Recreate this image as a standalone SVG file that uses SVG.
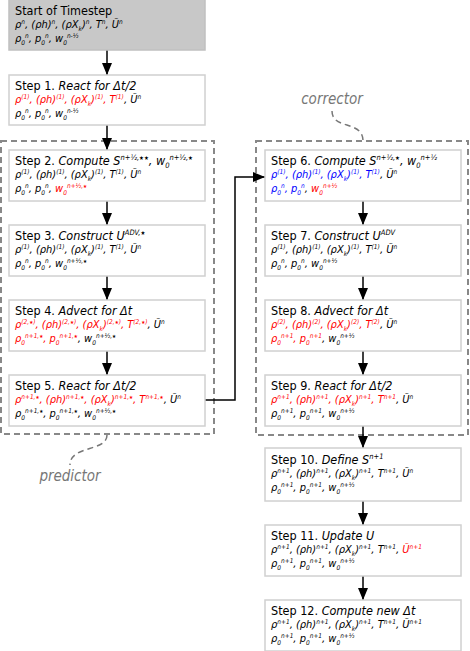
<svg xmlns="http://www.w3.org/2000/svg" width="470" height="651" viewBox="0 0 470 651">
<defs>
<marker id="ah" viewBox="0 0 12 10" refX="12" refY="5" markerWidth="12" markerHeight="10" markerUnits="userSpaceOnUse" orient="auto">
<path d="M0,0 L12,5 L0,10 Z" fill="#000"/>
</marker>
<style>
.box{fill:#fff;stroke:#d0d0d0;stroke-width:1.5}
.start{fill:#c8c8c8;stroke:#c0c0c0;stroke-width:1.5}
.grp{fill:none;stroke:#888;stroke-width:2;stroke-dasharray:6 4}
.lead{fill:none;stroke:#777;stroke-width:1.5;stroke-dasharray:6 4}
.lbl{font-family:"DejaVu Sans Condensed","Liberation Sans",sans-serif;font-style:italic;font-size:15px;fill:#777;text-anchor:middle}
.t{font-family:"DejaVu Sans Condensed","Liberation Sans",sans-serif;font-size:12.5px;fill:#000}
.i{font-style:italic}
.r{font-family:"DejaVu Sans Condensed","Liberation Sans",sans-serif;font-style:italic;font-size:11px;fill:#000}
.u{font-size:6.5px;baseline-shift:4px}
.d{font-size:6.5px;baseline-shift:-2.5px}
.tu{font-size:7.5px;baseline-shift:5px}
.td{font-size:7.5px;baseline-shift:-3px}
.st{font-size:5px}
.tst{font-size:6px}
.red{fill:#f00}
.blue{fill:#00f}
.cn{fill:none;stroke:#000;stroke-width:1.5}
</style>
</defs>

<g id="groups">
<rect class="grp" x="1" y="141" width="213" height="293"/>
<rect class="grp" x="256" y="141" width="212" height="294"/>
<path class="lead" d="M107,435 C107,452 70,445 70,465"/>
<text class="lbl" x="70" y="481">predictor</text>
<path class="lead" d="M332,111 C332,130 363,120 363,141"/>
<text class="lbl" x="332" y="104">corrector</text>
</g>

<g id="connectors">
<line class="cn" x1="107" y1="50" x2="107" y2="75" marker-end="url(#ah)"/>
<line class="cn" x1="107" y1="125" x2="107" y2="150" marker-end="url(#ah)"/>
<line class="cn" x1="107" y1="201" x2="107" y2="225" marker-end="url(#ah)"/>
<line class="cn" x1="107" y1="276" x2="107" y2="300" marker-end="url(#ah)"/>
<line class="cn" x1="107" y1="351" x2="107" y2="375" marker-end="url(#ah)"/>
<path class="cn" d="M205,400 H235 V177 H265" marker-end="url(#ah)"/>
<line class="cn" x1="363" y1="201" x2="363" y2="225" marker-end="url(#ah)"/>
<line class="cn" x1="363" y1="276" x2="363" y2="300" marker-end="url(#ah)"/>
<line class="cn" x1="363" y1="351" x2="363" y2="375" marker-end="url(#ah)"/>
<line class="cn" x1="363" y1="426" x2="363" y2="448" marker-end="url(#ah)"/>
<line class="cn" x1="363" y1="501" x2="363" y2="525" marker-end="url(#ah)"/>
<line class="cn" x1="363" y1="576" x2="363" y2="600" marker-end="url(#ah)"/>
</g>

<g id="start">
<rect class="start" x="9" y="-1" width="196" height="51"/>
<text class="t" x="15" y="15">Start of Timestep</text>
<text class="r" x="15" y="28">ρ<tspan class="u">n</tspan>, (ρh)<tspan class="u">n</tspan>, (ρX<tspan class="d">k</tspan>)<tspan class="u">n</tspan>, T<tspan class="u">n</tspan>, Ũ<tspan class="u">n</tspan></text>
<text class="r" x="15" y="42">ρ<tspan class="d">0</tspan><tspan class="u">n</tspan>, p<tspan class="d">0</tspan><tspan class="u">n</tspan>, w<tspan class="d">0</tspan><tspan class="u">n-½</tspan></text>
</g>

<g id="step1">
<rect class="box" x="9" y="75" width="196" height="50"/>
<text class="t" x="15" y="90">Step 1. <tspan class="i">React for Δt/2</tspan></text>
<text class="r" x="15" y="103"><tspan class="red">ρ<tspan class="u">(1)</tspan>, (ρh)<tspan class="u">(1)</tspan>, (ρX<tspan class="d">k</tspan>)<tspan class="u">(1)</tspan>, T<tspan class="u">(1)</tspan></tspan>, Ũ<tspan class="u">n</tspan></text>
<text class="r" x="15" y="117">ρ<tspan class="d">0</tspan><tspan class="u">n</tspan>, p<tspan class="d">0</tspan><tspan class="u">n</tspan>, w<tspan class="d">0</tspan><tspan class="u">n-½</tspan></text>
</g>

<g id="step2">
<rect class="box" x="9" y="150" width="196" height="51"/>
<text class="t" x="15" y="165">Step 2. <tspan class="i">Compute S<tspan class="tu">n+½,<tspan class="tst">★★</tspan></tspan>,  w<tspan class="td">0</tspan><tspan class="tu">n+½,<tspan class="tst">★</tspan></tspan></tspan></text>
<text class="r" x="15" y="178">ρ<tspan class="u">(1)</tspan>, (ρh)<tspan class="u">(1)</tspan>, (ρX<tspan class="d">k</tspan>)<tspan class="u">(1)</tspan>, T<tspan class="u">(1)</tspan>, Ũ<tspan class="u">n</tspan></text>
<text class="r" x="15" y="192">ρ<tspan class="d">0</tspan><tspan class="u">n</tspan>, p<tspan class="d">0</tspan><tspan class="u">n</tspan>, <tspan class="red">w<tspan class="d">0</tspan><tspan class="u">n+½,<tspan class="st">★</tspan></tspan></tspan></text>
</g>

<g id="step3">
<rect class="box" x="9" y="225" width="196" height="51"/>
<text class="t" x="15" y="240">Step 3. <tspan class="i">Construct U<tspan class="tu">ADV,<tspan class="tst">★</tspan></tspan></tspan></text>
<text class="r" x="15" y="253">ρ<tspan class="u">(1)</tspan>, (ρh)<tspan class="u">(1)</tspan>, (ρX<tspan class="d">k</tspan>)<tspan class="u">(1)</tspan>, T<tspan class="u">(1)</tspan>, Ũ<tspan class="u">n</tspan></text>
<text class="r" x="15" y="267">ρ<tspan class="d">0</tspan><tspan class="u">n</tspan>, p<tspan class="d">0</tspan><tspan class="u">n</tspan>, w<tspan class="d">0</tspan><tspan class="u">n+½,<tspan class="st">★</tspan></tspan></text>
</g>

<g id="step4">
<rect class="box" x="9" y="300" width="196" height="51"/>
<text class="t" x="15" y="315">Step 4. <tspan class="i">Advect for Δt</tspan></text>
<text class="r" x="15" y="328"><tspan class="red">ρ<tspan class="u">(2,<tspan class="st">★</tspan>)</tspan>, (ρh)<tspan class="u">(2,<tspan class="st">★</tspan>)</tspan>, (ρX<tspan class="d">k</tspan>)<tspan class="u">(2,<tspan class="st">★</tspan>)</tspan>, T<tspan class="u">(2,<tspan class="st">★</tspan>)</tspan></tspan>, Ũ<tspan class="u">n</tspan></text>
<text class="r" x="15" y="342"><tspan class="red">ρ<tspan class="d">0</tspan><tspan class="u">n+1,<tspan class="st">★</tspan></tspan>, p<tspan class="d">0</tspan><tspan class="u">n+1,<tspan class="st">★</tspan></tspan></tspan>, w<tspan class="d">0</tspan><tspan class="u">n+½,<tspan class="st">★</tspan></tspan></text>
</g>

<g id="step5">
<rect class="box" x="9" y="375" width="196" height="51"/>
<text class="t" x="15" y="390">Step 5. <tspan class="i">React for Δt/2</tspan></text>
<text class="r" x="15" y="403"><tspan class="red">ρ<tspan class="u">n+1,<tspan class="st">★</tspan></tspan>, (ρh)<tspan class="u">n+1,<tspan class="st">★</tspan></tspan>, (ρX<tspan class="d">k</tspan>)<tspan class="u">n+1,<tspan class="st">★</tspan></tspan>, T<tspan class="u">n+1,<tspan class="st">★</tspan></tspan></tspan>, Ũ<tspan class="u">n</tspan></text>
<text class="r" x="15" y="417">ρ<tspan class="d">0</tspan><tspan class="u">n+1,<tspan class="st">★</tspan></tspan>, p<tspan class="d">0</tspan><tspan class="u">n+1,<tspan class="st">★</tspan></tspan>, w<tspan class="d">0</tspan><tspan class="u">n+½,<tspan class="st">★</tspan></tspan></text>
</g>

<g id="step6">
<rect class="box" x="265" y="150" width="196" height="51"/>
<text class="t" x="271" y="165">Step 6. <tspan class="i">Compute S<tspan class="tu">n+½,<tspan class="tst">★</tspan></tspan>, w<tspan class="td">0</tspan><tspan class="tu">n+½</tspan></tspan></text>
<text class="r" x="271" y="178"><tspan class="blue">ρ<tspan class="u">(1)</tspan>, (ρh)<tspan class="u">(1)</tspan>, (ρX<tspan class="d">k</tspan>)<tspan class="u">(1)</tspan>, T<tspan class="u">(1)</tspan></tspan>, Ũ<tspan class="u">n</tspan></text>
<text class="r" x="271" y="192"><tspan class="blue">ρ<tspan class="d">0</tspan><tspan class="u">n</tspan>, p<tspan class="d">0</tspan><tspan class="u">n</tspan></tspan>, <tspan class="red">w<tspan class="d">0</tspan><tspan class="u">n+½</tspan></tspan></text>
</g>

<g id="step7">
<rect class="box" x="265" y="225" width="196" height="51"/>
<text class="t" x="271" y="240">Step 7. <tspan class="i">Construct U<tspan class="tu">ADV</tspan></tspan></text>
<text class="r" x="271" y="253">ρ<tspan class="u">(1)</tspan>, (ρh)<tspan class="u">(1)</tspan>, (ρX<tspan class="d">k</tspan>)<tspan class="u">(1)</tspan>, T<tspan class="u">(1)</tspan>, Ũ<tspan class="u">n</tspan></text>
<text class="r" x="271" y="267">ρ<tspan class="d">0</tspan><tspan class="u">n</tspan>, p<tspan class="d">0</tspan><tspan class="u">n</tspan>, w<tspan class="d">0</tspan><tspan class="u">n+½</tspan></text>
</g>

<g id="step8">
<rect class="box" x="265" y="300" width="196" height="51"/>
<text class="t" x="271" y="315">Step 8. <tspan class="i">Advect for Δt</tspan></text>
<text class="r" x="271" y="328"><tspan class="red">ρ<tspan class="u">(2)</tspan>, (ρh)<tspan class="u">(2)</tspan>, (ρX<tspan class="d">k</tspan>)<tspan class="u">(2)</tspan>, T<tspan class="u">(2)</tspan></tspan>, Ũ<tspan class="u">n</tspan></text>
<text class="r" x="271" y="342"><tspan class="red">ρ<tspan class="d">0</tspan><tspan class="u">n+1</tspan>, p<tspan class="d">0</tspan><tspan class="u">n+1</tspan></tspan>, w<tspan class="d">0</tspan><tspan class="u">n+½</tspan></text>
</g>

<g id="step9">
<rect class="box" x="265" y="375" width="196" height="51"/>
<text class="t" x="271" y="390">Step 9. <tspan class="i">React for Δt/2</tspan></text>
<text class="r" x="271" y="403"><tspan class="red">ρ<tspan class="u">n+1</tspan>, (ρh)<tspan class="u">n+1</tspan>, (ρX<tspan class="d">k</tspan>)<tspan class="u">n+1</tspan>, T<tspan class="u">n+1</tspan></tspan>, Ũ<tspan class="u">n</tspan></text>
<text class="r" x="271" y="417">ρ<tspan class="d">0</tspan><tspan class="u">n+1</tspan>, p<tspan class="d">0</tspan><tspan class="u">n+1</tspan>, w<tspan class="d">0</tspan><tspan class="u">n+½</tspan></text>
</g>

<g id="step10">
<rect class="box" x="265" y="448" width="196" height="53"/>
<text class="t" x="271" y="464">Step 10. <tspan class="i">Define S<tspan class="tu">n+1</tspan></tspan></text>
<text class="r" x="271" y="477">ρ<tspan class="u">n+1</tspan>, (ρh)<tspan class="u">n+1</tspan>, (ρX<tspan class="d">k</tspan>)<tspan class="u">n+1</tspan>, T<tspan class="u">n+1</tspan>, Ũ<tspan class="u">n</tspan></text>
<text class="r" x="271" y="491">ρ<tspan class="d">0</tspan><tspan class="u">n+1</tspan>, p<tspan class="d">0</tspan><tspan class="u">n+1</tspan>, w<tspan class="d">0</tspan><tspan class="u">n+½</tspan></text>
</g>

<g id="step11">
<rect class="box" x="265" y="525" width="196" height="51"/>
<text class="t" x="271" y="540">Step 11. <tspan class="i">Update U</tspan></text>
<text class="r" x="271" y="553">ρ<tspan class="u">n+1</tspan>, (ρh)<tspan class="u">n+1</tspan>, (ρX<tspan class="d">k</tspan>)<tspan class="u">n+1</tspan>, T<tspan class="u">n+1</tspan>, <tspan class="red">Ũ<tspan class="u">n+1</tspan></tspan></text>
<text class="r" x="271" y="567">ρ<tspan class="d">0</tspan><tspan class="u">n+1</tspan>, p<tspan class="d">0</tspan><tspan class="u">n+1</tspan>, w<tspan class="d">0</tspan><tspan class="u">n+½</tspan></text>
</g>

<g id="step12">
<rect class="box" x="265" y="600" width="196" height="51"/>
<text class="t" x="271" y="615">Step 12. <tspan class="i">Compute new Δt</tspan></text>
<text class="r" x="271" y="628">ρ<tspan class="u">n+1</tspan>, (ρh)<tspan class="u">n+1</tspan>, (ρX<tspan class="d">k</tspan>)<tspan class="u">n+1</tspan>, T<tspan class="u">n+1</tspan>, Ũ<tspan class="u">n+1</tspan></text>
<text class="r" x="271" y="642">ρ<tspan class="d">0</tspan><tspan class="u">n+1</tspan>, p<tspan class="d">0</tspan><tspan class="u">n+1</tspan>, w<tspan class="d">0</tspan><tspan class="u">n+½</tspan></text>
</g>
</svg>
